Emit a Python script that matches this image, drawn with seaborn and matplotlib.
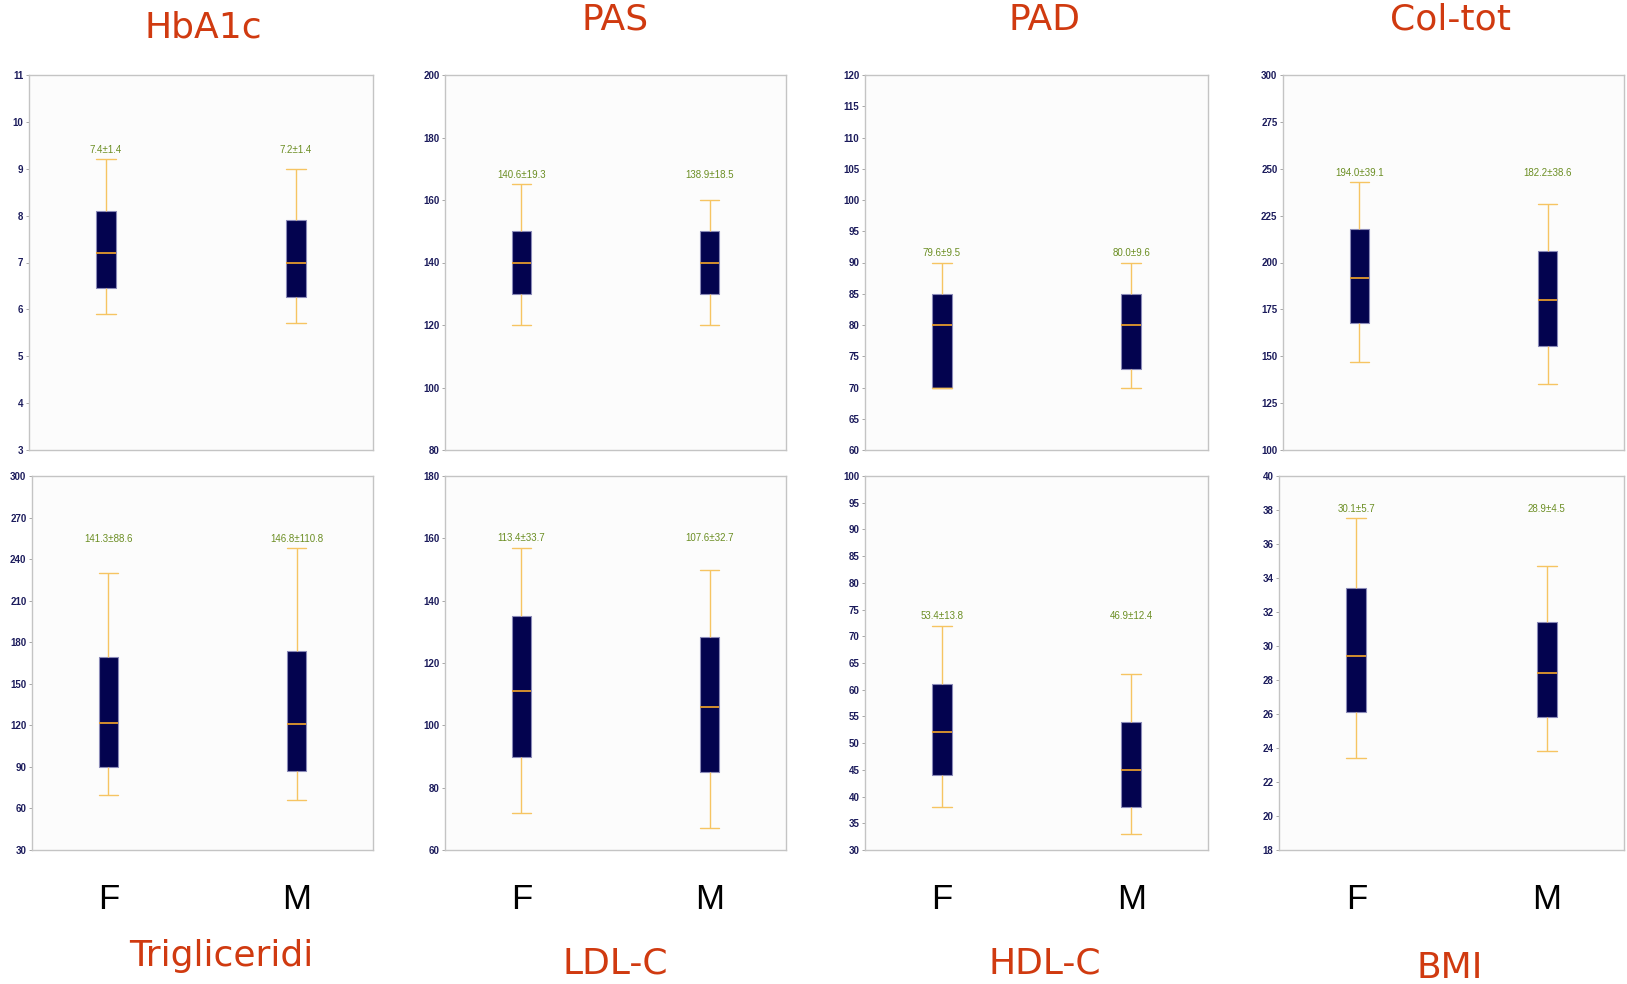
import numpy as np
import pandas as pd
import matplotlib
matplotlib.use("Agg")
import matplotlib.pyplot as plt
import seaborn as sns

sns.set_style("white")

# groups
sexes = ["F", "M"]

# panel names, in drawing order (top row then bottom row)
panels = ["HbA1c", "PAS", "PAD", "Col-tot", "Trigliceridi", "LDL-C", "HDL-C", "BMI"]

# five number summaries: low whisker, q1, median, q3, high whisker
hba1c_f = [5.9, 6.45, 7.2, 8.1, 9.2]
hba1c_m = [5.7, 6.27, 7.0, 7.9, 9.0]
pas_f = [120, 130, 140, 150, 165]
pas_m = [120, 130, 140, 150, 160]
pad_f = [70, 70, 80, 85, 90]
pad_m = [70, 73, 80, 85, 90]
col_f = [147, 167.5, 192, 218, 243]
col_m = [135, 155.5, 180, 206, 231]
trig_f = [69.5, 90, 122, 169, 230]
trig_m = [66, 87, 121, 174, 248]
ldl_f = [72, 90, 111, 135, 157]
ldl_m = [67, 85, 106, 128.5, 150]
hdl_f = [38, 44, 52, 61, 72]
hdl_m = [33, 38, 45, 54, 63]
bmi_f = [23.4, 26.1, 29.4, 33.4, 37.5]
bmi_m = [23.8, 25.8, 28.4, 31.4, 34.7]

# mean and sd printed above each box
mean_f = [7.4, 140.6, 79.6, 194.0, 141.3, 113.4, 53.4, 30.1]
sd_f = [1.4, 19.3, 9.5, 39.1, 88.6, 33.7, 13.8, 5.7]
mean_m = [7.2, 138.9, 80.0, 182.2, 146.8, 107.6, 46.9, 28.9]
sd_m = [1.4, 18.5, 9.6, 38.6, 110.8, 32.7, 12.4, 4.5]

# y axis: min, max, step
y_min = [3, 80, 60, 100, 30, 60, 30, 18]
y_max = [11, 200, 120, 300, 300, 180, 100, 40]
y_step = [1, 20, 5, 25, 30, 20, 5, 2]

summaries = [(hba1c_f, hba1c_m), (pas_f, pas_m), (pad_f, pad_m), (col_f, col_m),
             (trig_f, trig_m), (ldl_f, ldl_m), (hdl_f, hdl_m), (bmi_f, bmi_m)]

# layout (pixels in a 1627x984 figure)
W, H = 1627, 984
ax_px = [(29, 75, 373, 450), (445, 75, 786, 450), (865, 75, 1208, 450), (1283, 75, 1624, 450),
         (32, 476, 373, 850), (445, 476, 786, 850), (865, 476, 1208, 850), (1279, 476, 1624, 850)]
title_px = [(203, 27), (615, 20), (1045, 20), (1450, 20),
            (221, 956), (615, 963), (1045, 963), (1450, 968)]

NAVY = "#03034f"
WHISK = "#f6c462"
MED = "#e39a2c"
GREEN = "#6b8e23"
TICK = "#1c1c5c"
TITLE = "#d03a10"
narrow = ["Liberation Sans Narrow", "Liberation Sans", "DejaVu Sans"]

fig = plt.figure(figsize=(W / 100, H / 100), dpi=100)
fig.patch.set_facecolor("white")

box_w = 0.105
for i, name in enumerate(panels):
    x0, y0, x1, y1 = ax_px[i]
    ax = fig.add_axes([x0 / W, 1 - y1 / H, (x1 - x0) / W, (y1 - y0) / H])
    ax.set_facecolor("#fcfcfc")

    f_vals, m_vals = summaries[i]
    df = pd.DataFrame({"sex": ["F"] * len(f_vals) + ["M"] * len(m_vals),
                       "value": f_vals + m_vals})
    sns.boxplot(data=df, x="sex", y="value", order=sexes, ax=ax,
                width=box_w, whis=(0, 100), color=NAVY, saturation=1,
                boxprops=dict(edgecolor="#8a8ab8", linewidth=0.8),
                whiskerprops=dict(color=WHISK, linewidth=1.0),
                capprops=dict(color=WHISK, linewidth=1.0),
                medianprops=dict(color=MED, linewidth=1.3))

    # caps as wide as the boxes
    for ln in ax.lines:
        xd = np.asarray(ln.get_xdata(), dtype=float)
        yd = np.asarray(ln.get_ydata(), dtype=float)
        if len(xd) == 2 and yd[0] == yd[1] and (xd[1] - xd[0]) < 0.9 * box_w:
            c = xd.mean()
            ln.set_xdata([c - box_w / 2, c + box_w / 2])

    ax.set_xlim(-0.406, 1.406)
    ax.set_ylim(y_min[i], y_max[i])
    ax.set_yticks(np.arange(y_min[i], y_max[i] + y_step[i] / 2, y_step[i]))
    ax.set_xlabel("")
    ax.set_ylabel("")
    for s in ax.spines.values():
        s.set_visible(True)
        s.set_color("#c4c4c4")
        s.set_linewidth(1.0)
    ax.tick_params(axis="y", left=True, length=2.5, width=0.6, color="#999999",
                   pad=1.5, labelsize=7, labelcolor=TICK)
    for lb in ax.get_yticklabels():
        lb.set_fontweight("bold")
        lb.set_family(narrow)

    if i >= 4:
        ax.tick_params(axis="x", bottom=False, pad=20, labelsize=25, labelcolor="black")
        for lb in ax.get_xticklabels():
            lb.set_family(["Liberation Sans", "DejaVu Sans"])
    else:
        ax.tick_params(axis="x", bottom=False, labelbottom=False)

    # mean +- sd labels above the whiskers
    span = y_max[i] - y_min[i]
    ty = max(f_vals[-1], m_vals[-1]) + 0.025 * span
    for j, (mu, sd) in enumerate([(mean_f[i], sd_f[i]), (mean_m[i], sd_m[i])]):
        ax.text(j, ty, f"{mu:.1f}±{sd:.1f}", ha="center", va="center",
                fontsize=7, color=GREEN, family=narrow)

    tx, tyy = title_px[i]
    fig.text(tx / W, 1 - tyy / H, name, ha="center", va="center",
             fontsize=26, color=TITLE, family=["DejaVu Sans"])

fig.savefig("out.png", dpi=100, facecolor="white")
